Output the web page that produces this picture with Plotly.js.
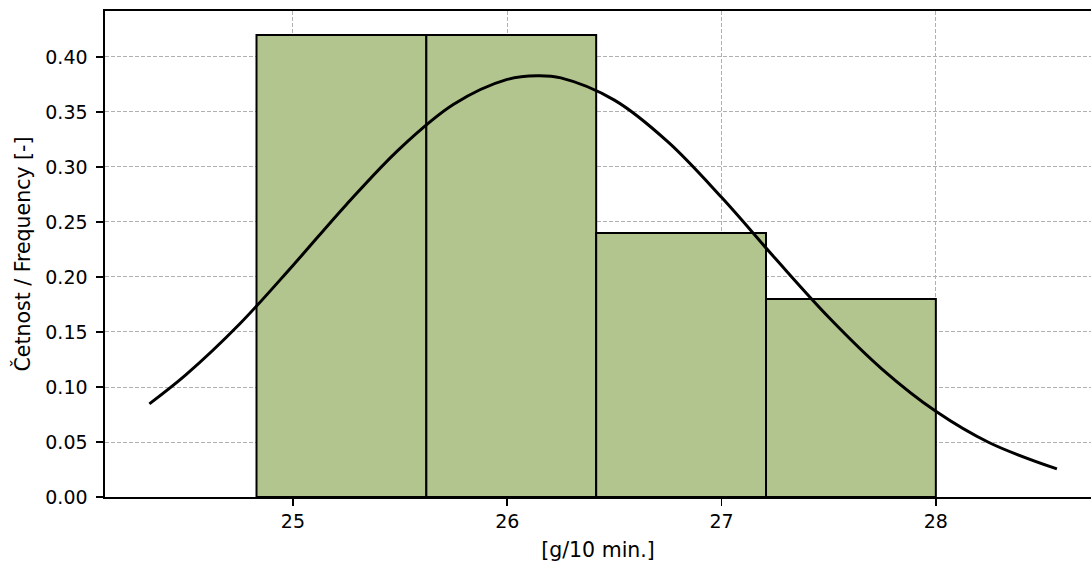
<!DOCTYPE html>
<html>
<head>
<meta charset="utf-8">
<script src="https://cdn.plot.ly/plotly-3.0.1.min.js"></script>
<style>html,body{margin:0;padding:0;background:#fff;}#chart{width:1091px;height:562px;}</style>
</head>
<body>
<div id="chart"></div>
<script>
// Histogram bin edges and relative frequencies
var binEdges = [24.83, 25.6225, 26.415, 27.2075, 28.0];
var frequencies = [0.42, 0.42, 0.24, 0.18];

// Fitted density curve
var curveX = [24.33, 24.5, 24.75, 25.0, 25.25, 25.5, 25.75, 26.0, 26.14, 26.25, 26.5, 26.75, 27.0, 27.25, 27.5, 27.75, 28.0, 28.25, 28.565];
var curveY = [0.0847, 0.111, 0.157, 0.2105, 0.266, 0.317, 0.357, 0.3796, 0.383, 0.381, 0.3608, 0.3228, 0.2724, 0.217, 0.1634, 0.1161, 0.0779, 0.0493, 0.0255];

var xTicks = [25, 26, 27, 28];
var yTicks = [0, 0.05, 0.10, 0.15, 0.20, 0.25, 0.30, 0.35, 0.40];

var centers = [], widths = [];
for (var i = 0; i < frequencies.length; i++) {
  centers.push((binEdges[i] + binEdges[i + 1]) / 2);
  widths.push(binEdges[i + 1] - binEdges[i]);
}

var bars = {
  type: 'bar', x: centers, y: frequencies, width: widths,
  marker: {color: '#b3c58e', line: {color: '#000000', width: 2}},
  hoverinfo: 'skip', showlegend: false
};
var curve = {
  type: 'scatter', mode: 'lines', x: curveX, y: curveY,
  line: {color: '#000000', width: 3, shape: 'spline', smoothing: 1.0},
  hoverinfo: 'skip', showlegend: false
};

var tickFont = {family: 'DejaVu Sans, sans-serif', size: 19, color: '#000'};
var titleFont = {family: 'DejaVu Sans, sans-serif', size: 20.5, color: '#000'};
var layout = {
  width: 1091, height: 562,
  margin: {l: 105, r: 0, t: 11, b: 65},
  paper_bgcolor: '#fff', plot_bgcolor: '#fff',
  font: tickFont,
  xaxis: {
    range: [24.123, 28.724], tickvals: xTicks, ticktext: xTicks.map(String),
    showline: true, linecolor: '#000', linewidth: 1.6, mirror: true,
    ticks: 'outside', ticklen: 7, tickwidth: 1.6, tickcolor: '#000',
    showgrid: true, gridcolor: '#b0b0b0', gridwidth: 1, griddash: '4px,2px',
    zeroline: false, tickfont: tickFont,
    title: {text: '[g/10 min.]', font: titleFont, standoff: 11}
  },
  yaxis: {
    range: [0, 0.4418], tickvals: yTicks, ticktext: yTicks.map(function(v){return v.toFixed(2);}),
    showline: true, linecolor: '#000', linewidth: 1.6, mirror: false,
    ticks: 'outside', ticklen: 7, tickwidth: 1.6, tickcolor: '#000',
    showgrid: true, gridcolor: '#b0b0b0', gridwidth: 1, griddash: '4px,2px',
    zeroline: false, tickfont: tickFont, ticklabelstandoff: 5,
    title: {text: 'Četnost / Frequency [-]', font: titleFont, standoff: 9}
  },
  bargap: 0
};

Plotly.newPlot('chart', [bars, curve], layout, {displayModeBar: false, staticPlot: true});
</script>
</body>
</html>
